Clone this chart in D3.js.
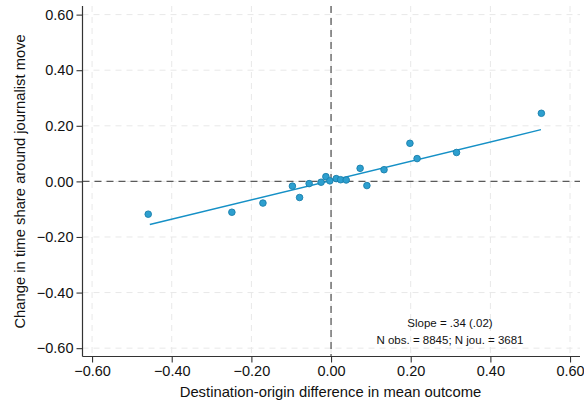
<!DOCTYPE html>
<html><head><meta charset="utf-8">
<script src="https://cdn.jsdelivr.net/npm/d3@7"></script>
<style>body{margin:0;background:#fff}svg{display:block;font-family:"Liberation Sans",Arial,Helvetica,sans-serif}</style>
</head><body><div id="chart"></div>
<script>
const xVals = [-0.459,-0.249,-0.171,-0.097,-0.079,-0.055,-0.025,-0.013,-0.003,0.013,0.024,0.038,0.073,0.090,0.133,0.198,0.216,0.315,0.528];
const yVals = [-0.118,-0.111,-0.078,-0.017,-0.058,-0.008,-0.003,0.017,0.002,0.010,0.006,0.005,0.047,-0.015,0.042,0.137,0.082,0.104,0.245];
const fitX = [-0.455, 0.527];
const fitY = [-0.155, 0.186];
const xTicks = [-0.6,-0.4,-0.2,0,0.2,0.4,0.6];
const yTicks = [-0.6,-0.4,-0.2,0,0.2,0.4,0.6];
const notes = ["Slope = .34 (.02)", "N obs. = 8845; N jou. = 3681"];
const xTitle = "Destination-origin difference in mean outcome";
const yTitle = "Change in time share around journalist move";

const W = 584, H = 406;
const L = 82.5, R = 580, T = 6, B = 356.5;
const svg = d3.select("#chart").append("svg").attr("width", W).attr("height", H);
const x = d3.scaleLinear().domain([-0.624, 0.625]).range([L, R]);
const y = d3.scaleLinear().domain([-0.63, 0.631]).range([B, T]);
const fmt = d3.format(".2f");

// grid
const g = svg.append("g");
g.selectAll(".gx").data(xTicks).enter().append("line")
  .attr("x1", d => x(d)).attr("x2", d => x(d)).attr("y1", T).attr("y2", B)
  .attr("stroke", "#e8e8e8").attr("stroke-width", 1).attr("stroke-dasharray", "6,5");
g.selectAll(".gy").data(yTicks).enter().append("line")
  .attr("y1", d => y(d)).attr("y2", d => y(d)).attr("x1", L).attr("x2", R)
  .attr("stroke", "#e8e8e8").attr("stroke-width", 1).attr("stroke-dasharray", "6,5");

// zero reference lines
svg.append("line").attr("x1", x(0)).attr("x2", x(0)).attr("y1", T).attr("y2", B)
  .attr("stroke", "#5a5a5a").attr("stroke-width", 1.3).attr("stroke-dasharray", "7,5");
svg.append("line").attr("y1", y(0)).attr("y2", y(0)).attr("x1", L).attr("x2", R)
  .attr("stroke", "#5a5a5a").attr("stroke-width", 1.3).attr("stroke-dasharray", "7,5");

// fit line
svg.append("line").attr("x1", x(fitX[0])).attr("y1", y(fitY[0])).attr("x2", x(fitX[1])).attr("y2", y(fitY[1]))
  .attr("stroke", "#1590c6").attr("stroke-width", 1.4);

// points
svg.selectAll(".pt").data(xVals.map((v, i) => [v, yVals[i]])).enter().append("circle")
  .attr("cx", d => x(d[0])).attr("cy", d => y(d[1])).attr("r", 3.3)
  .attr("fill", "#2d9fcf").attr("stroke", "#1a7fab").attr("stroke-width", 0.9);

// axes
const xAxis = svg.append("g").attr("transform", `translate(0,${B})`)
  .call(d3.axisBottom(x).tickValues(xTicks).tickFormat(fmt).tickSize(6).tickPadding(3));
const yAxis = svg.append("g").attr("transform", `translate(${L},0)`)
  .call(d3.axisLeft(y).tickValues(yTicks).tickFormat(fmt).tickSize(6).tickPadding(3));
[xAxis, yAxis].forEach(a => {
  a.select(".domain").attr("stroke", "#333").attr("stroke-width", 1.2);
  a.selectAll(".tick line").attr("stroke", "#333").attr("stroke-width", 1.1);
  a.selectAll("text").attr("font-size", 14.5).attr("fill", "#111")
    .attr("font-family", '"Liberation Sans",Arial,sans-serif');
});
xAxis.select(".domain").attr("d", `M${L},0H${R}`);
yAxis.select(".domain").attr("d", `M0,${T}V${B}`);

// titles
svg.append("text").attr("x", 330.5).attr("y", 397).attr("text-anchor", "middle")
  .attr("font-size", 14.8).attr("fill", "#111").text(xTitle);
svg.append("text").attr("transform", `translate(25,${y(0)}) rotate(-90)`).attr("text-anchor", "middle")
  .attr("font-size", 14.8).attr("fill", "#111").text(yTitle);

// notes
svg.selectAll(".note").data(notes).enter().append("text")
  .attr("x", 450).attr("y", (d, i) => 327 + i * 17).attr("text-anchor", "middle")
  .attr("font-size", 11.5).attr("fill", "#111").text(d => d);
</script></body></html>
